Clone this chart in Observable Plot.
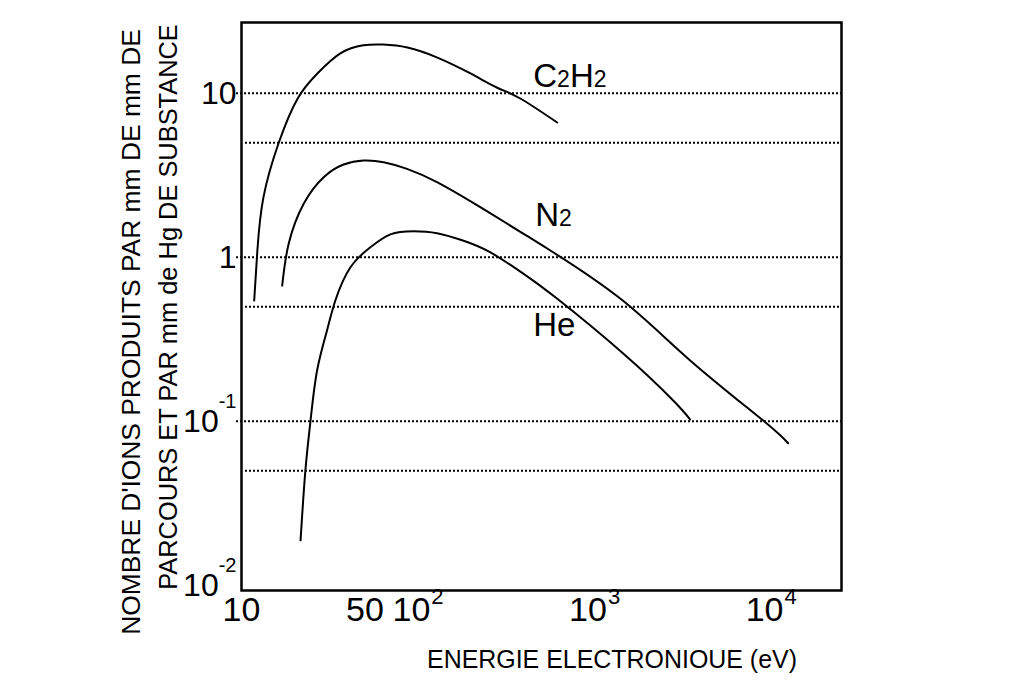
<!DOCTYPE html>
<html>
<head>
<meta charset="utf-8">
<script src="https://cdn.jsdelivr.net/npm/d3@7"></script>
<script src="https://cdn.jsdelivr.net/npm/@observablehq/plot@0.6"></script>
<style>
  html, body { margin: 0; padding: 0; background: #fff; }
  svg { display: block; }
</style>
</head>
<body>
<div id="chart"></div>
<script>
// ---- data ----
const gasNames = ["C2H2", "N2", "He"];

const c2h2Energy = [11.8, 12.3, 13.3, 16.2, 20.8, 26.9, 36.3, 49, 63.6, 87, 128.6, 198, 281, 379, 614];
const c2h2Ions   = [0.545, 1.10, 2.31, 4.94, 9.29, 13.2, 17.5, 19.6, 19.8, 19.0, 16.5, 13.2, 10.8, 9.29, 6.63];

const n2Energy = [17.0, 18.5, 22.5, 29.2, 37.9, 49.2, 63.9, 86.6, 128, 225, 396, 561, 1396, 3475, 9000, 12470];
const n2Ions   = [0.672, 1.21, 2.12, 3.08, 3.68, 3.89, 3.80, 3.46, 2.87, 2.02, 1.39, 1.10, 0.560, 0.235, 0.101, 0.0735];

const heEnergy = [21.6, 23.0, 24.6, 26.8, 30.5, 34.0, 41.4, 53.7, 69.7, 94.4, 128, 181, 257, 396, 612, 1451, 2785, 3475];
const heIons   = [0.0188, 0.0501, 0.101, 0.204, 0.358, 0.545, 0.870, 1.15, 1.38, 1.44, 1.40, 1.26, 1.07, 0.793, 0.560, 0.259, 0.134, 0.1025];

const labelEnergy = [449, 461, 449];
const labelIons   = [12.65, 1.80, 0.384];

const xTicks = [10, 50, 100, 1000, 10000];
const xTickLabels = ["10", "50", "10^2", "10^3", "10^4"];
const yTicks = [10, 1, 0.1, 0.01];
const yTickLabels = ["10", "1", "10^-1", "10^-2"];
const gridMajor = [10, 1, 0.1];
const gridMinor = [5, 0.5, 0.05];

const xTitle = "ENERGIE ELECTRONIOUE (eV)";
const yTitle1 = "NOMBRE D'IONS PRODUITS PAR mm DE mm DE";
const yTitle2 = "PARCOURS ET PAR mm de Hg DE SUBSTANCE";

// ---- long table built from the arrays ----
const rows = [];
[[gasNames[0], c2h2Energy, c2h2Ions], [gasNames[1], n2Energy, n2Ions], [gasNames[2], heEnergy, heIons]]
  .forEach(([gas, es, vs]) => es.forEach((e, i) => rows.push({gas, energy: e, ions: vs[i]})));

const fontFamily = '"Liberation Sans", Arial, Helvetica, sans-serif';
const dotted = {stroke: "black", strokeWidth: 2, strokeDasharray: "2 2"};

const chart = Plot.plot({
  width: 1024,
  height: 683,
  marginLeft: 241,
  marginRight: 183,
  marginTop: 22,
  marginBottom: 93,
  style: {fontFamily, background: "white", color: "black", overflow: "visible"},
  x: {type: "log", domain: [10, 25000], axis: null},
  y: {type: "log", domain: [0.0093, 27], axis: null},
  marks: [
    Plot.ruleY(gridMajor, {y: d => d, insetLeft: -5, ...dotted}),
    Plot.ruleY(gridMinor, {y: d => d, insetLeft: 4, ...dotted}),
    Plot.frame({stroke: "black", strokeWidth: 2.5}),
    Plot.line(rows, {x: "energy", y: "ions", z: "gas", curve: "natural", stroke: "black", strokeWidth: 2}),
    Plot.text(gasNames, {x: (d, i) => labelEnergy[i], y: (d, i) => labelIons[i], text: d => d,
      textAnchor: "start", fontSize: 33}),
    Plot.text(xTicks, {x: d => d, frameAnchor: "bottom", dy: 30, text: (d, i) => xTickLabels[i], fontSize: 34}),
    Plot.text(yTicks, {y: d => d, frameAnchor: "left", dx: -5, textAnchor: "end",
      text: (d, i) => yTickLabels[i], fontSize: 32})
  ]
});

document.getElementById("chart").appendChild(chart);

// ---- superscripts / subscripts as real tspans ----
const ns = "http://www.w3.org/2000/svg";
chart.querySelectorAll("text").forEach(el => {
  const t = el.textContent;
  if (t.includes("^")) {
    const [base, exp] = t.split("^");
    const isY = !!el.closest('[text-anchor="end"]');
    el.textContent = "";
    const b = document.createElementNS(ns, "tspan");
    b.textContent = base;
    const s = document.createElementNS(ns, "tspan");
    s.textContent = exp;
    if (isY) { s.setAttribute("font-size", "20"); s.setAttribute("dy", "-24"); s.setAttribute("dx", "0"); }
    else { s.setAttribute("font-size", "22"); s.setAttribute("dy", "-17"); s.setAttribute("dx", "1"); }
    el.appendChild(b); el.appendChild(s);
  } else if (gasNames.includes(t) && /\d/.test(t)) {
    el.textContent = "";
    t.split(/(\d)/).filter(p => p).forEach(p => {
      const sp = document.createElementNS(ns, "tspan");
      sp.textContent = p;
      if (/\d/.test(p)) sp.setAttribute("font-size", "23");
      el.appendChild(sp);
    });
  }
});

// ---- axis titles (font size chosen so the natural length fits the span) ----
const svg = d3.select(chart);
function fitText(sel, target, base) {
  const len = sel.node().getComputedTextLength();
  sel.attr("font-size", (base * target / len).toFixed(2));
}
const xt = svg.append("text")
  .attr("x", 427).attr("y", 668)
  .attr("text-anchor", "start")
  .attr("font-family", fontFamily).attr("font-size", 28)
  .attr("fill", "black")
  .text(xTitle);
fitText(xt, 370, 28);

const yt1 = svg.append("text")
  .attr("transform", "translate(140,332) rotate(-90)")
  .attr("text-anchor", "middle")
  .attr("font-family", fontFamily).attr("font-size", 28)
  .attr("fill", "black")
  .text(yTitle1);
fitText(yt1, 606, 28);

const yt2 = svg.append("text")
  .attr("transform", "translate(177,307) rotate(-90)")
  .attr("text-anchor", "middle")
  .attr("font-family", fontFamily).attr("font-size", 28)
  .attr("fill", "black")
  .text(yTitle2);
fitText(yt2, 566, 28);
</script>
</body>
</html>
